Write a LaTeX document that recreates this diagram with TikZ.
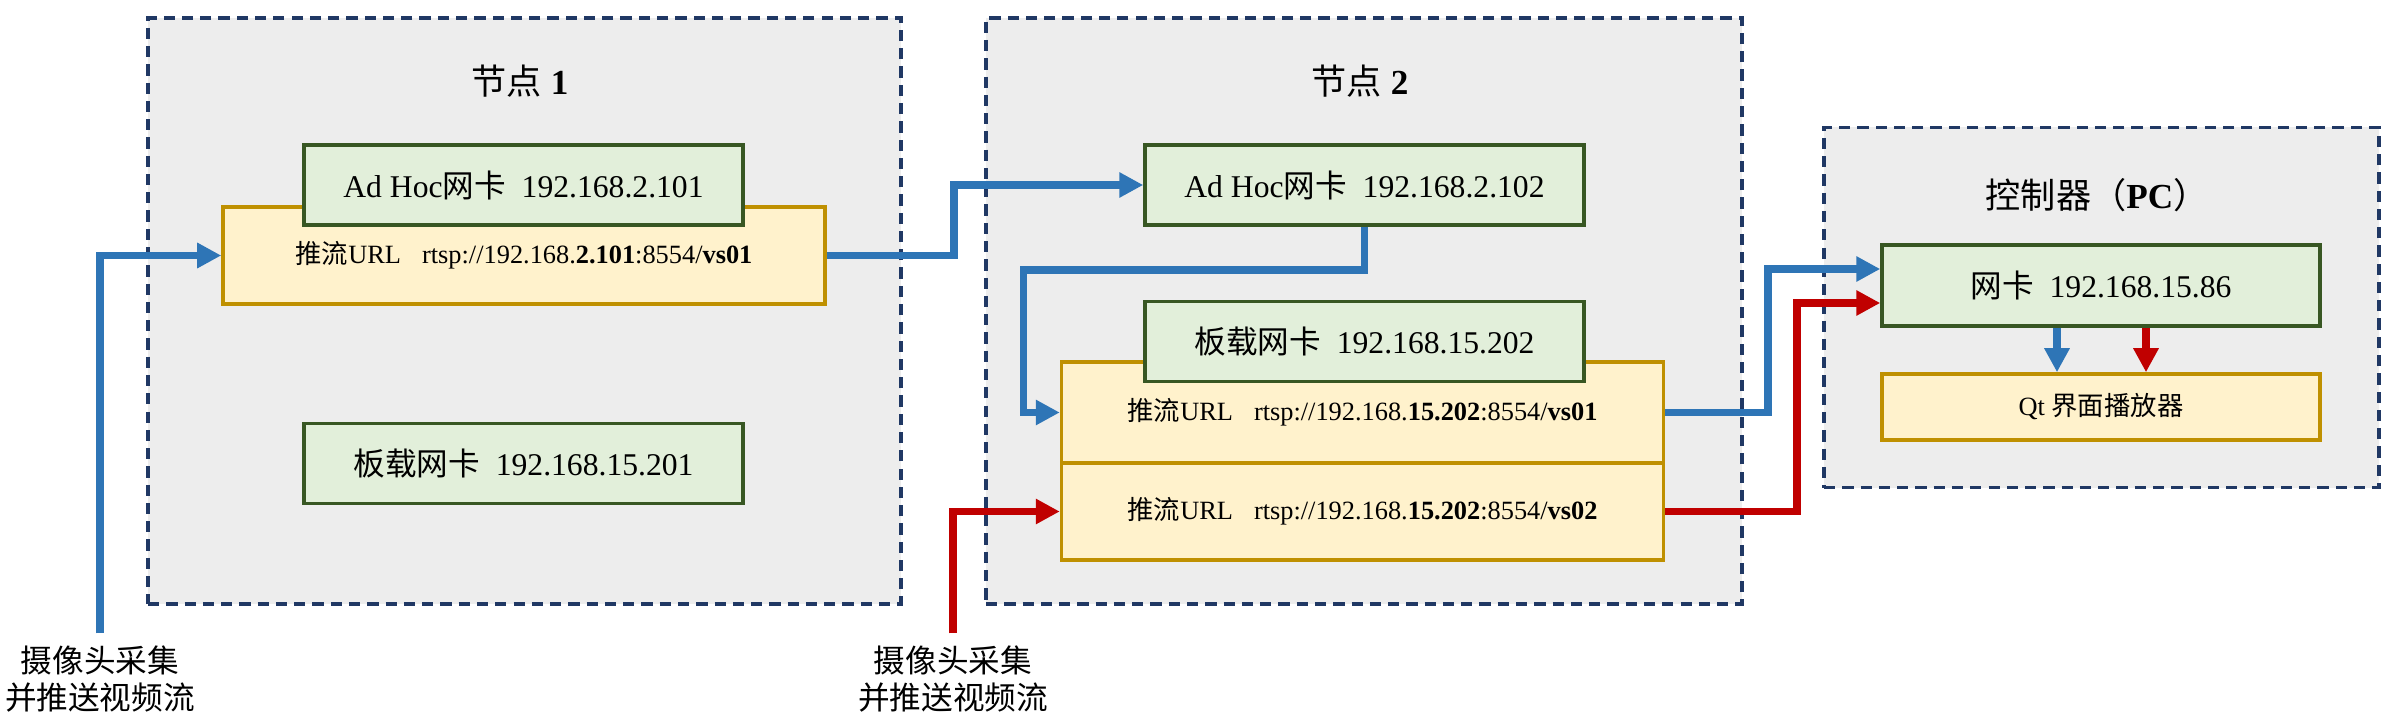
\documentclass[tikz,border=0pt]{standalone}
\usepackage{fontspec}
\setmainfont{Liberation Serif}
\newfontfamily\cjk{Noto Sans CJK SC}
\usetikzlibrary{positioning,calc,arrows.meta}
\newcommand{\zh}[1]{{\cjk #1}}
\definecolor{grpfill}{HTML}{EDEDED}
\definecolor{grpline}{HTML}{203864}
\definecolor{nicfill}{HTML}{E2EFDA}
\definecolor{nicline}{HTML}{385723}
\definecolor{urlfill}{HTML}{FFF2CC}
\definecolor{urlline}{HTML}{BF9000}
\definecolor{flowA}{HTML}{2E75B6}
\definecolor{flowB}{HTML}{C00000}

\begin{document}
\begin{tikzpicture}[
	group/.style={draw=grpline, fill=grpfill, line width=1pt, dash pattern=on 3.2pt off 2pt, inner sep=0pt},
	nic/.style={draw=nicline, fill=nicfill, line width=1pt, minimum width=4.39cm, minimum height=0.8cm, inner sep=0pt, font=\fontsize{9}{11}\selectfont},
	url/.style={draw=urlline, fill=urlfill, line width=1pt, minimum width=6.02cm, inner sep=0pt, font=\fontsize{7.5}{9}\selectfont},
	title/.style={font=\fontsize{10}{12}\selectfont},
	cam/.style={align=center, inner sep=0.12cm, font=\cjk\fontsize{9}{10.3}\selectfont},
	flow/.style={line width=2.2pt, -{Triangle[length=2.4mm,width=2.4mm]}}
	]
		\useasboundingbox (0,0) rectangle (23.87,7.24);
		\node[group, minimum width=7.53cm, minimum height=5.86cm] (N1) at (5.245,4.13) {};
		\node[group, minimum width=7.56cm, minimum height=5.86cm] (N2) at (13.64,4.13) {};
		\node[group, minimum width=5.55cm, minimum height=3.6cm] (PC) at (21.015,4.165) {};
		\node[title] (T1) at (5.2,6.43) {\zh{节点} \textbf{1}};
		\node[title] (T2) at (13.6,6.43) {\zh{节点} \textbf{2}};
		\node[title] (TPC) at (20.97,5.29) {\zh{控制器（}\textbf{PC}\zh{）}};
		\node[url, minimum height=0.97cm] (URL1) at (5.24,4.685) {\zh{推流}URL\hspace{0.8em}rtsp://192.168.\textbf{2.101}:8554/\textbf{vs01}};
		\node[nic] (AH1) at (5.235,5.39) {Ad Hoc\zh{网卡}\enspace 192.168.2.101};
		\node[nic] (BD1) at (5.235,2.605) {\zh{板载网卡}\enspace 192.168.15.201};
		\node[nic] (AH2) at (13.645,5.39) {Ad Hoc\zh{网卡}\enspace 192.168.2.102};
		\node[url, minimum height=1.01cm] (URL2a) at (13.625,3.115) {\zh{推流}URL\hspace{0.8em}rtsp://192.168.\textbf{15.202}:8554/\textbf{vs01}};
		\node[url, minimum height=0.97cm] (URL2b) at (13.625,2.125) {\zh{推流}URL\hspace{0.8em}rtsp://192.168.\textbf{15.202}:8554/\textbf{vs02}};
		\node[nic] (BD2) at (13.645,3.825) {\zh{板载网卡}\enspace 192.168.15.202};
		\node[nic, minimum width=4.38cm, minimum height=0.81cm] (NIC) at (21.01,4.385) {\zh{网卡}\enspace 192.168.15.86};
		\node[url, minimum width=4.38cm, minimum height=0.66cm] (Qt) at (21.01,3.17) {Qt \zh{界面播放器}};
		\node[cam] (cam1) at (1.00,0.45) {摄像头采集\\并推送视频流};
		\node[cam] (cam2) at (9.53,0.45) {摄像头采集\\并推送视频流};
		\draw[flow, flowA] (cam1) |- (URL1);
		\draw[flow, flowA] (URL1.east) -- ++(1.27,0) |- (AH2.west);
		\draw[flow, flowA] (AH2.south) -- ++(0,-0.43) -- ++(-3.41,0) |- (URL2a.west);
		\draw[flow, flowB] (cam2) |- (URL2b);
		\draw[flow, flowA] (URL2a.east) -- ++(1.03,0) |- ([yshift=0.165cm]NIC.west);
		\draw[flow, flowB] (URL2b.east) -- ++(1.32,0) |- ([yshift=-0.175cm]NIC.west);
		\draw[flow, flowA] ([xshift=-0.44cm]NIC.south) -- ([xshift=-0.44cm]Qt.north);
		\draw[flow, flowB] ([xshift=0.45cm]NIC.south) -- ([xshift=0.45cm]Qt.north);
\end{tikzpicture}
\end{document}
